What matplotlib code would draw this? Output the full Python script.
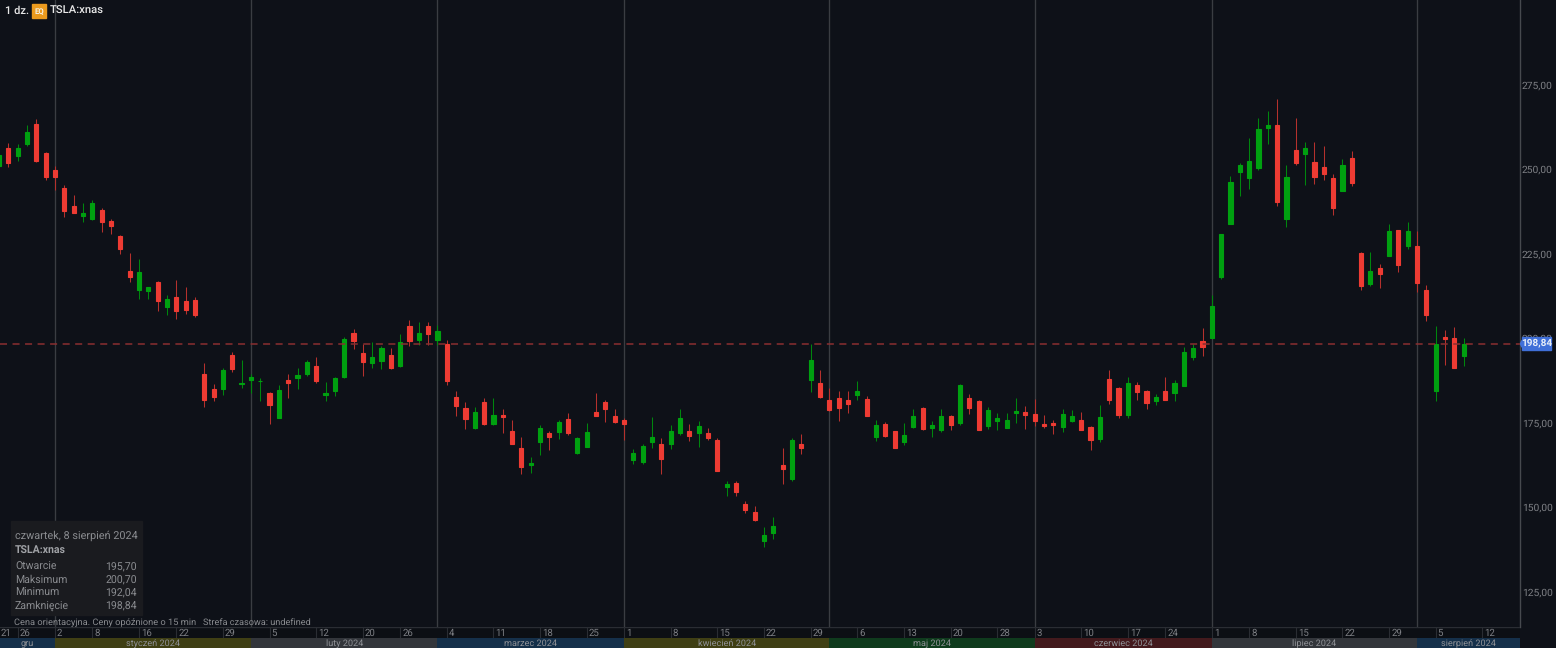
import matplotlib
matplotlib.use("Agg")
import matplotlib.pyplot as plt
from matplotlib.patches import Rectangle, Polygon

plt.rcParams["font.family"] = ["Roboto", "DejaVu Sans"]
plt.rcParams["text.hinting"] = "no_hinting"

# daily candles, 21 Dec 2023 to 8 Aug 2024 (trading days only)
opens = [251.6, 256.8, 254.3, 258.0, 263.8, 255.2, 250.2, 245.0, 239.5, 236.7, 235.8, 238.4, 235.3, 230.7, 220.3, 214.8,
         214.5, 217.1, 209.7, 212.6, 211.5, 211.9, 189.8, 185.5, 185.5, 195.4, 186.9, 188.2, 187.8, 184.2, 177.0, 188.2,
         188.7, 190.0, 192.3, 183.6, 184.9, 189.0, 202.0, 196.2, 193.2, 193.8, 195.4, 192.3, 204.2, 200.1, 204.2, 200.1,
         198.8, 183.1, 179.9, 174.0, 181.5, 175.1, 177.9, 173.0, 168.0, 162.9, 169.9, 172.4, 172.7, 176.5, 166.4, 168.4,
         178.6, 181.6, 177.6, 176.4, 164.4, 163.9, 169.8, 169.3, 169.2, 172.6, 173.0, 172.4, 172.5, 170.4, 156.4, 157.8,
         151.4, 149.1, 140.4, 143.0, 163.0, 158.7, 169.1, 188.1, 187.2, 182.1, 182.9, 182.1, 183.7, 182.6, 171.3, 175.2,
         173.0, 169.8, 174.2, 180.0, 173.8, 173.2, 177.6, 175.3, 182.9, 181.9, 174.5, 176.1, 174.0, 178.4, 178.6, 178.1,
         175.0, 175.5, 174.2, 175.9, 176.2, 174.1, 170.8, 188.5, 185.8, 177.7, 186.6, 184.8, 181.9, 185.0, 184.2, 186.3,
         194.8, 199.7, 200.6, 218.7, 234.4, 249.6, 247.8, 250.8, 262.6, 263.5, 235.7, 256.3, 255.1, 252.7, 251.2, 248.0,
         244.0, 253.9, 225.6, 216.6, 221.3, 224.7, 232.5, 227.7, 227.7, 214.9, 184.9, 200.9, 200.7, 195.3]
highs = [255.1, 258.3, 258.0, 263.5, 265.3, 255.5, 251.5, 245.9, 243.0, 240.4, 241.5, 239.1, 235.8, 231.1, 225.6, 223.8,
         215.7, 217.5, 213.4, 217.8, 215.8, 212.8, 193.2, 187.0, 191.7, 196.5, 194.1, 190.0, 188.7, 184.7, 186.6, 189.8,
         191.8, 194.0, 195.0, 187.5, 189.0, 201.0, 203.3, 198.9, 199.4, 198.3, 197.7, 201.8, 206.0, 205.3, 205.4, 204.5,
         200.0, 184.8, 181.5, 180.1, 182.8, 182.9, 179.5, 176.3, 171.2, 165.3, 174.9, 173.1, 176.2, 178.4, 171.2, 175.5,
         184.4, 182.1, 179.7, 176.9, 167.7, 169.1, 177.3, 171.0, 174.7, 179.5, 175.0, 176.1, 173.9, 171.0, 158.4, 158.4,
         152.2, 150.8, 144.5, 147.5, 168.0, 171.0, 172.2, 198.9, 191.2, 185.8, 184.9, 184.9, 187.8, 183.4, 176.4, 175.8,
         173.1, 175.4, 179.7, 180.1, 176.1, 179.7, 177.8, 186.9, 184.1, 182.1, 180.2, 178.4, 178.4, 182.9, 180.5, 182.6,
         177.9, 176.2, 179.6, 179.4, 178.6, 174.6, 180.7, 191.2, 186.0, 189.0, 187.5, 185.3, 184.1, 189.0, 188.0, 198.0,
         198.9, 203.5, 213.4, 231.4, 248.5, 252.4, 259.7, 265.7, 267.7, 271.2, 251.9, 265.8, 258.7, 258.7, 257.3, 249.2,
         253.4, 256.0, 226.1, 226.1, 222.5, 234.4, 232.6, 234.9, 232.1, 216.4, 204.0, 203.0, 203.8, 200.7]
lows = [248.7, 251.3, 253.0, 257.4, 252.7, 247.3, 244.4, 236.4, 237.7, 234.8, 235.4, 232.0, 231.3, 225.5, 217.2, 212.1,
        212.1, 208.5, 207.5, 206.2, 207.8, 206.8, 180.1, 181.9, 183.6, 190.4, 185.8, 184.4, 182.0, 175.1, 177.0, 182.8,
        185.5, 189.4, 187.3, 181.9, 183.4, 188.8, 197.4, 189.2, 191.8, 191.4, 191.5, 192.0, 198.3, 198.5, 198.6, 198.5,
        186.8, 177.4, 173.7, 173.7, 174.7, 174.8, 172.4, 169.2, 160.4, 160.6, 166.0, 167.4, 170.8, 171.8, 166.3, 168.4,
        177.5, 175.8, 175.4, 170.3, 163.2, 163.2, 168.1, 160.3, 167.8, 171.8, 170.1, 168.4, 170.4, 161.2, 153.8, 153.8,
        148.7, 146.4, 138.8, 141.2, 157.4, 158.2, 166.2, 184.6, 182.8, 179.0, 176.1, 178.4, 182.1, 177.5, 170.2, 171.3,
        168.0, 168.9, 174.0, 173.2, 171.2, 172.8, 173.4, 174.8, 178.1, 173.2, 173.7, 173.2, 173.9, 175.4, 173.7, 174.5,
        174.0, 172.1, 172.7, 175.6, 173.2, 167.4, 169.8, 181.1, 176.9, 176.9, 182.2, 179.5, 180.6, 182.3, 181.9, 186.3,
        194.0, 195.3, 200.6, 218.1, 234.4, 242.6, 244.7, 250.3, 258.0, 239.6, 233.3, 251.9, 245.7, 246.2, 247.4, 236.9,
        244.0, 245.6, 214.8, 216.0, 215.3, 224.7, 220.2, 226.8, 214.3, 205.7, 181.9, 192.5, 191.7, 192.2]
closes = [254.6, 252.4, 256.8, 261.6, 252.9, 248.1, 248.1, 238.2, 237.7, 237.6, 240.6, 234.8, 233.8, 227.0, 218.6, 220.0,
          215.7, 211.6, 212.2, 208.6, 208.9, 207.5, 182.3, 183.1, 191.2, 191.4, 187.4, 189.1, 187.8, 180.7, 185.3, 187.3,
          189.6, 193.4, 187.8, 184.3, 188.7, 200.4, 199.7, 193.5, 194.9, 197.6, 191.6, 199.5, 199.7, 202.1, 201.8, 202.6,
          187.9, 180.4, 176.5, 178.6, 175.0, 177.8, 177.3, 169.2, 162.4, 163.6, 173.8, 171.2, 175.7, 172.6, 171.0, 172.7,
          177.5, 179.5, 175.6, 175.1, 166.6, 168.5, 171.2, 164.7, 173.0, 177.0, 171.5, 174.6, 170.9, 161.2, 157.3, 155.1,
          149.8, 146.8, 142.2, 144.8, 161.8, 170.4, 168.1, 194.1, 183.0, 179.4, 179.8, 181.0, 184.8, 177.5, 174.9, 171.5,
          168.0, 172.0, 177.6, 173.6, 174.8, 177.6, 174.8, 186.6, 179.8, 173.4, 179.4, 176.8, 176.2, 179.0, 177.8, 176.1,
          174.4, 174.7, 178.1, 177.6, 173.4, 170.3, 177.3, 182.2, 177.8, 187.4, 184.7, 181.2, 183.2, 182.3, 187.4, 196.5,
          197.6, 197.8, 210.1, 231.4, 246.6, 251.7, 253.0, 262.3, 263.5, 240.8, 248.3, 252.5, 256.9, 248.2, 249.0, 239.1,
          251.7, 246.3, 215.9, 220.5, 219.6, 232.2, 222.3, 232.2, 216.7, 207.3, 198.7, 200.3, 191.7, 198.84]

price_ticks = [125, 150, 175, 200, 225, 250, 275]
price_labels = ["125,00", "150,00", "175,00", "200,00", "225,00", "250,00", "275,00"]
last_price = 198.84

# day ticks on the trading day index (0 = 2 Jan 2024)
day_pos = [-6, -4, 0, 4, 9, 13, 18, 23, 28, 33, 37, 42, 47, 52, 57, 61, 66, 71, 76, 81, 86, 91, 96, 101,
           105, 110, 115, 119, 124, 128, 133, 138, 143, 148, 153]
day_labels = ["21", "26", "2", "8", "16", "22", "29", "5", "12", "20", "26", "4", "11", "18", "25", "1", "8", "15",
              "22", "29", "6", "13", "20", "28", "3", "10", "17", "24", "1", "8", "15", "22", "29", "5", "12"]
month_starts = [-6.0, 0, 21, 41, 61, 83, 105, 124, 146, 157]
month_labels = ["gru", "styczeń 2024", "luty 2024", "marzec 2024", "kwiecień 2024", "maj 2024", "czerwiec 2024",
                "lipiec 2024", "sierpień 2024"]
month_colors = ["#15304a", "#3f3f14", "#33363b", "#15304a", "#3f3f14", "#0f3b1d", "#431a1d", "#33363b", "#15304a"]

info_rows = ["Otwarcie", "Maksimum", "Minimum", "Zamknięcie"]
info_values = ["195,70", "200,70", "192,04", "198,84"]

W, H = 1556, 648
BG = "#0e1118"
GREEN = "#00a010"
RED = "#ee3b33"
GREY = "#8a8c90"
x0, x1 = -5.89, 157.03

fig = plt.figure(figsize=(W / 100, H / 100), dpi=100, facecolor=BG)


def px_axes(left, top, right, bottom):
    return fig.add_axes([left / W, 1 - bottom / H, (right - left) / W, (bottom - top) / H])


# y is the text baseline in picture pixels
def label(x, y, s, **kw):
    kw.setdefault("color", GREY)
    kw.setdefault("fontsize", 7)
    kw.setdefault("va", "baseline")
    fig.text(x / W, 1 - y / H, s, **kw)


# price pane
ax = px_axes(0, 0, 1520, 627)
ax.set_facecolor(BG)
ax.set_xlim(x0, x1)
ax.set_ylim(115.05, 300.59)
ax.set_xticks([])
ax.set_yticks([])
for s in ax.spines.values():
    s.set_visible(False)

for m in month_starts[1:-1]:
    ax.axvline(m, color="#3a3d42", lw=0.95, zorder=1)

for i in range(len(opens)):
    day = i - 6
    up = closes[i] >= opens[i]
    c = GREEN if up else RED
    wick = "#00860e" if up else "#b5312d"
    ax.vlines(day, lows[i], highs[i], color=wick, lw=0.75, zorder=2)
    ax.bar(day, abs(closes[i] - opens[i]), bottom=min(opens[i], closes[i]), width=0.44, color=c, edgecolor=c,
           linewidth=0.8, zorder=3)

ax.axhline(last_price, color="#8a2f30", lw=1.1, dashes=(4.6, 3.6), zorder=4)

# price scale on the right
ax_r = px_axes(1520, 0, 1556, 627)
ax_r.set_facecolor(BG)
ax_r.set_xlim(0, 36)
ax_r.set_ylim(115.05, 300.59)
ax_r.set_xticks([])
ax_r.set_yticks([])
for s in ax_r.spines.values():
    s.set_visible(False)
ax_r.spines["left"].set_visible(True)
ax_r.spines["left"].set_color("#46494e")
ax_r.spines["left"].set_linewidth(1)
for p, t in zip(price_ticks, price_labels):
    ax_r.text(2, p + 0.3, t, color="#7d7f84", fontsize=7.4, va="center")
ax_r.add_patch(Rectangle((2, last_price - 1.9), 29, 3.9, color="#3f6fd8", zorder=5))
ax_r.add_patch(Polygon([(0.4, last_price), (2, last_price + 1), (2, last_price - 1)], color="#3f6fd8", zorder=5))
ax_r.text(16.5, last_price, "198,84", color="#e6edf8", fontsize=7.2, fontweight="bold", ha="center", va="center",
          zorder=6)

# day strip
ax_d = px_axes(0, 627, 1520, 638)
ax_d.set_facecolor("#0c0f14")
ax_d.set_xlim(x0, x1)
ax_d.set_ylim(0, 1)
ax_d.set_xticks([])
ax_d.set_yticks([])
for s in ax_d.spines.values():
    s.set_visible(False)
ax_d.axhline(0.98, color="#2a2d33", lw=1)
for d, t in zip(day_pos, day_labels):
    ax_d.axvline(d, color="#2a2d33", lw=0.8)
    ax_d.annotate(t, (d, 0.45), xytext=(2, 0), textcoords="offset pixels", color="#7d7f84", fontsize=6.9, va="center",
                  annotation_clip=False)

# month strip
ax_m = px_axes(0, 638, 1520, 648)
ax_m.set_xlim(x0, x1)
ax_m.set_ylim(0, 1)
ax_m.set_xticks([])
ax_m.set_yticks([])
for s in ax_m.spines.values():
    s.set_visible(False)
for i, t in enumerate(month_labels):
    left = max(month_starts[i], x0)
    ax_m.axvspan(left, month_starts[i + 1], color=month_colors[i], lw=0)
    ax_m.text((left + min(month_starts[i + 1], x1)) / 2, 0.45, t, color="#8f9196", fontsize=6.6, ha="center",
              va="center")

# overlay: tooltip box and header
fig.add_artist(Rectangle((11 / W, 1 - 615 / H), 131 / W, 94 / H, transform=fig.transFigure, color="#1a1b1f", zorder=6))
label(15, 539, "czwartek, 8 sierpień 2024", fontsize=7.8, zorder=7)
label(15, 554, "TSLA:xnas", fontsize=7.6, fontweight="bold", color="#a0a2a6", zorder=7)
for n, (name, val) in enumerate(zip(info_rows, info_values)):
    label(15, 570 + n * 13, name, fontsize=7.6, zorder=7)
    label(137, 570 + n * 13, val, fontsize=7.6, ha="right", zorder=7)
label(14, 625, "Cena orientacyjna. Ceny opóźnione o 15 min", fontsize=6.7, zorder=7)
label(203, 625, "Strefa czasowa: undefined", fontsize=6.6, zorder=7)

label(5, 14, "1 dz.", color="#e8e8e8", fontsize=8, fontweight="medium", zorder=7)
fig.add_artist(Rectangle((32 / W, 1 - 18 / H), 14 / W, 14 / H, transform=fig.transFigure, color="#eb9a1e", zorder=6))
label(39, 13.5, "EQ", color="#f6f0e0", fontsize=5.6, fontweight="bold", ha="center", zorder=7)
label(50, 14, "TSLA:xnas", color="#e8e8e8", fontsize=8.1, fontweight="medium", zorder=7)

fig.savefig("out.png", dpi=100, facecolor=BG)
